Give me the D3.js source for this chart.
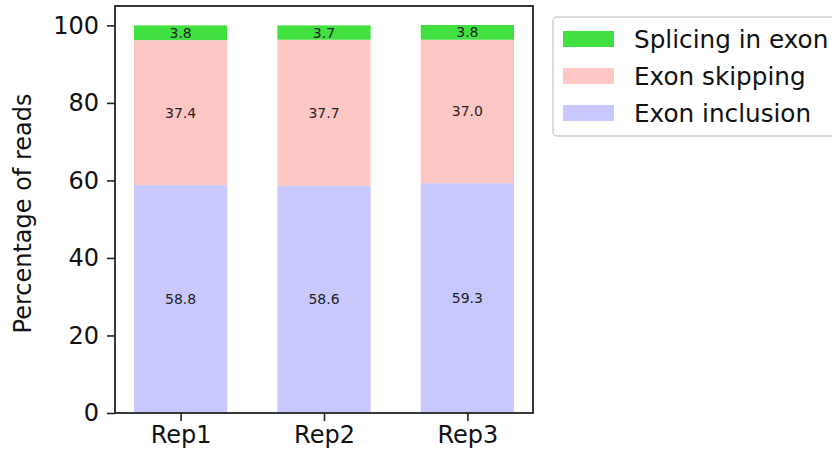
<!DOCTYPE html>
<html>
<head>
<meta charset="utf-8">
<script src="https://cdn.jsdelivr.net/npm/d3@7"></script>
<style>
  html, body { margin: 0; padding: 0; background: #fff; }
  svg { display: block; font-family: "DejaVu Sans", sans-serif; }
</style>
</head>
<body>
<svg id="chart" width="832" height="457"></svg>
<script>
// Replicates and the share of reads in each splicing class (%)
const categories = ["Rep1", "Rep2", "Rep3"];
const exonInclusion = [58.8, 58.6, 59.3];
const exonSkipping = [37.4, 37.7, 37.0];
const splicingInExon = [3.8, 3.7, 3.8];
const yTicks = [0, 20, 40, 60, 80, 100];

const seriesNames = ["Exon inclusion", "Exon skipping", "Splicing in exon"];
const seriesColors = ["#c8c8ff", "#ffc6c6", "#40e040"];
const seriesValues = [exonInclusion, exonSkipping, splicingInExon];

const rows = categories.map((c, i) => {
  const r = { cat: c };
  seriesNames.forEach((s, k) => r[s] = seriesValues[k][i]);
  return r;
});
const stacked = d3.stack().keys(seriesNames)(rows);

const svg = d3.select("#chart");
const plot = { left: 115, right: 533, top: 6, bottom: 413 };

// category positions 0..n-1, bar width 0.65 in category units
const barW = 0.65;
const x = d3.scaleLinear().domain([-0.4575, categories.length - 1 + 0.4575]).range([plot.left, plot.right]);
const y = d3.scaleLinear().domain([0, 105]).range([plot.bottom, plot.top]);

const g = svg.append("g");

stacked.forEach((layer, k) => {
  g.selectAll(null).data(layer).enter().append("rect")
    .attr("x", (d, i) => x(i - barW / 2))
    .attr("width", (d, i) => x(i + barW / 2) - x(i - barW / 2))
    .attr("y", d => y(d[1]))
    .attr("height", d => y(d[0]) - y(d[1]))
    .attr("fill", seriesColors[k]);

  g.selectAll(null).data(layer).enter().append("text")
    .attr("x", (d, i) => x(i))
    .attr("y", d => y((d[0] + d[1]) / 2))
    .attr("text-anchor", "middle")
    .attr("dominant-baseline", "central")
    .attr("font-size", 14)
    .attr("fill", "#222")
    .text(d => (d[1] - d[0]).toFixed(1));
});

// axes
const yAxis = d3.axisLeft(y).tickValues(yTicks).tickSize(8).tickPadding(8);
const yg = svg.append("g").attr("transform", `translate(${plot.left},0)`).call(yAxis);
yg.select(".domain").remove();
yg.selectAll("text").attr("font-size", 24).attr("font-family", "DejaVu Sans").attr("fill", "#111");
yg.selectAll("line").attr("stroke", "#222").attr("stroke-width", 1.6);

const xAxis = d3.axisBottom(x).tickValues(categories.map((c, i) => i))
  .tickFormat(i => categories[i]).tickSize(8).tickPadding(5);
const xg = svg.append("g").attr("transform", `translate(0,${plot.bottom})`).call(xAxis);
xg.select(".domain").remove();
xg.selectAll("text").attr("font-size", 24).attr("font-family", "DejaVu Sans").attr("fill", "#111");
xg.selectAll("line").attr("stroke", "#222").attr("stroke-width", 1.6);

// frame
svg.append("rect")
  .attr("x", plot.left).attr("y", plot.top)
  .attr("width", plot.right - plot.left).attr("height", plot.bottom - plot.top)
  .attr("fill", "none").attr("stroke", "#222").attr("stroke-width", 1.8);

// y axis title
svg.append("text")
  .attr("transform", `translate(31,${(plot.top + plot.bottom) / 2 + 4}) rotate(-90)`)
  .attr("text-anchor", "middle")
  .attr("font-size", 24)
  .attr("fill", "#111")
  .text("Percentage of reads");

// legend (top entry is the top of the stack)
const legend = svg.append("g").attr("transform", "translate(553,17)");
legend.append("rect")
  .attr("x", 0).attr("y", 0).attr("width", 300).attr("height", 119)
  .attr("rx", 4).attr("fill", "#fff").attr("stroke", "#d0d0d0").attr("stroke-width", 1.5);
const legendOrder = seriesNames.map((s, k) => k).reverse();
legendOrder.forEach((k, j) => {
  const cy = 22 + j * 37;
  legend.append("rect")
    .attr("x", 10).attr("y", cy - 8).attr("width", 51).attr("height", 16)
    .attr("fill", seriesColors[k]);
  legend.append("text")
    .attr("x", 81).attr("y", cy)
    .attr("dominant-baseline", "central")
    .attr("font-size", 24.7)
    .attr("fill", "#111")
    .text(seriesNames[k]);
});
</script>
</body>
</html>
